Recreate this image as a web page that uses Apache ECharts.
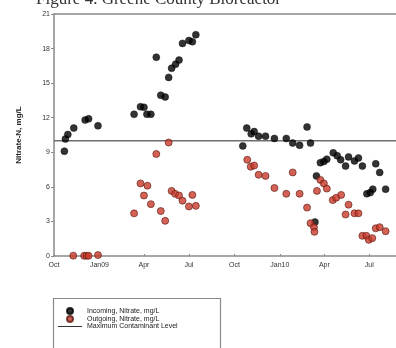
<!DOCTYPE html>
<html>
<head>
<meta charset="utf-8">
<script src="https://cdn.jsdelivr.net/npm/echarts@6/dist/echarts.min.js"></script>
<style>html,body{margin:0;padding:0;background:#fff}#c{width:396px;height:348px}</style>
</head>
<body>
<div id="c"></div>
<script>
var tickDates = ['2008-10-01','2009-01-01','2009-04-01','2009-07-01','2009-10-01','2010-01-01','2010-04-01','2010-07-01'];
var tickLabels = ['Oct','Jan09','Apr','Jul','Oct','Jan10','Apr','Jul'];
var yTicks = [0,3,6,9,12,15,18,21];
var mcl = 10;

var incomingDates = ['2008-10-22','2008-10-24','2008-10-29','2008-11-10','2008-12-03','2008-12-10','2008-12-29',
 '2009-03-12','2009-03-25','2009-04-01','2009-04-07','2009-04-15','2009-04-26','2009-05-05','2009-05-14','2009-05-21','2009-05-27','2009-06-04','2009-06-11','2009-06-18','2009-07-01','2009-07-08','2009-07-15',
 '2009-10-18','2009-10-26','2009-11-04','2009-11-10','2009-11-19','2009-12-03','2009-12-21','2010-01-14','2010-01-27','2010-02-10','2010-02-25','2010-03-04','2010-03-16','2010-03-13','2010-03-24','2010-03-31','2010-04-06','2010-04-19','2010-04-27','2010-05-04','2010-05-14','2010-05-20','2010-06-01','2010-06-09','2010-06-17','2010-06-26','2010-07-03','2010-07-08','2010-07-14','2010-07-22','2010-08-03'];
var incomingValues = [9.1,10.15,10.55,11.1,11.8,11.9,11.3,
 12.3,12.95,12.9,12.3,12.3,17.25,13.95,13.8,15.5,16.3,16.65,17.0,18.45,18.7,18.6,19.2,
 9.55,11.1,10.6,10.8,10.4,10.4,10.2,10.2,9.8,9.6,11.2,9.8,6.95,2.95,8.1,8.2,8.4,8.95,8.7,8.35,7.8,8.6,8.25,8.5,7.8,5.4,5.5,5.8,8.0,7.25,5.8];

var outgoingDates = ['2008-11-09','2008-12-01','2008-12-06','2008-12-10','2008-12-29',
 '2009-03-12','2009-03-25','2009-04-01','2009-04-08','2009-04-15','2009-04-26','2009-05-05','2009-05-14','2009-05-21','2009-05-27','2009-06-03','2009-06-11','2009-06-18','2009-07-01','2009-07-08','2009-07-15',
 '2009-10-27','2009-11-03','2009-11-10','2009-11-19','2009-12-03','2009-12-21','2010-01-14','2010-01-27','2010-02-10','2010-02-25','2010-03-04','2010-03-11','2010-03-12','2010-03-17','2010-03-24','2010-03-31','2010-04-06','2010-04-18','2010-04-25','2010-05-05','2010-05-14','2010-05-20','2010-06-01','2010-06-09','2010-06-17','2010-06-25','2010-06-30','2010-07-07','2010-07-14','2010-07-22','2010-08-03'];
var outgoingValues = [0.03,0.02,0.02,0.02,0.08,
 3.7,6.3,5.25,6.1,4.5,8.85,3.9,3.05,9.85,5.65,5.4,5.25,4.8,4.3,5.3,4.35,
 8.35,7.75,7.85,7.05,6.95,5.9,5.4,7.25,5.4,4.2,2.85,2.5,2.1,5.65,6.6,6.3,5.85,4.85,5.05,5.3,3.6,4.45,3.7,3.7,1.75,1.75,1.4,1.55,2.4,2.5,2.15];

var xMinDate = '2008-10-01', xMaxDate = '2010-08-24';

function ts(s){ var p = s.split('-'); return Date.UTC(+p[0], +p[1]-1, +p[2]); }
function pair(d, v){ return d.map(function(x,i){ return [ts(x), v[i]]; }); }
var tickTs = tickDates.map(ts);
var xMin = ts(xMinDate), xMax = ts(xMaxDate);

var chart = echarts.init(document.getElementById('c'), null, {renderer:'canvas'});
var axisGray = '#8a8a8a';
var lineIcon = 'path://M0,0L0.01,0L0.01,0.01Z M0,2.5H24V3.5H0Z M23.99,6L24,6L24,5.99Z';
chart.setOption({
  animation:false,
  backgroundColor:'#fff',
  graphic:[{
    type:'text', left:36, top:-9,
    style:{text:'Figure 4. Greene County Bioreactor', font:'17px "Liberation Serif"', fill:'#333'}
  },{
    type:'rect', left:51, top:296, shape:{width:167, height:60},
    style:{fill:'none', stroke:'#8a8a8a', lineWidth:1.2}, z:-1
  }],
  legend:{
    orient:'vertical', left:53, top:302, itemGap:0,
    itemWidth:24, itemHeight:6,
    textStyle:{fontSize:7, color:'#222', fontFamily:'Liberation Sans', lineHeight:7},
    data:[{name:'Incoming, Nitrate, mg/L', icon:'circle'},{name:'Outgoing, Nitrate, mg/L', icon:'circle'},{name:'Maximum Contaminant Level', icon:lineIcon}]
  },
  grid:{left:54, right:0, top:14, bottom:92, containLabel:false},
  xAxis:[{
    type:'value', min:xMin, max:xMax,
    axisLine:{lineStyle:{color:axisGray, width:1.5}},
    axisTick:{show:true, inside:true, length:2, customValues:tickTs, lineStyle:{color:axisGray}},
    axisLabel:{customValues:tickTs, fontSize:7, color:'#333', fontFamily:'Liberation Sans', margin:6,
      formatter:function(v){ var i = tickTs.indexOf(+v); return i>=0 ? tickLabels[i] : ''; }},
    splitLine:{show:false}
  },{
    type:'value', min:xMin, max:xMax, position:'top',
    axisLine:{show:true, lineStyle:{color:axisGray, width:1.5}},
    axisTick:{show:false}, axisLabel:{show:false}, splitLine:{show:false}
  }],
  yAxis:{
    type:'value', min:yTicks[0], max:yTicks[yTicks.length-1], interval:3,
    name:'Nitrate-N, mg/L', nameLocation:'middle', nameGap:31, nameRotate:90,
    nameTextStyle:{fontSize:8, fontWeight:'bold', color:'#222', fontFamily:'Liberation Sans'},
    axisLine:{show:true, lineStyle:{color:axisGray, width:1.5}},
    axisTick:{show:true, length:3, lineStyle:{color:axisGray}},
    axisLabel:{fontSize:7, color:'#333', fontFamily:'Liberation Sans', margin:4},
    splitLine:{show:false}
  },
  series:[{
    name:'Incoming, Nitrate, mg/L', type:'scatter', symbolSize:7, z:3,
    itemStyle:{color:'#000', borderColor:'#000', borderWidth:0.5},
    data:pair(incomingDates, incomingValues)
  },{
    name:'Outgoing, Nitrate, mg/L', type:'scatter', symbolSize:7, z:4,
    itemStyle:{color:'#c9392b', borderColor:'#5a1a12', borderWidth:0.8},
    data:pair(outgoingDates, outgoingValues)
  },{
    name:'Maximum Contaminant Level', type:'line', symbol:'none', z:2,
    lineStyle:{color:'#6f6f6f', width:1.5}, itemStyle:{color:'#333'},
    data:[[xMin, mcl],[xMax, mcl]]
  }]
});
</script>
</body>
</html>
